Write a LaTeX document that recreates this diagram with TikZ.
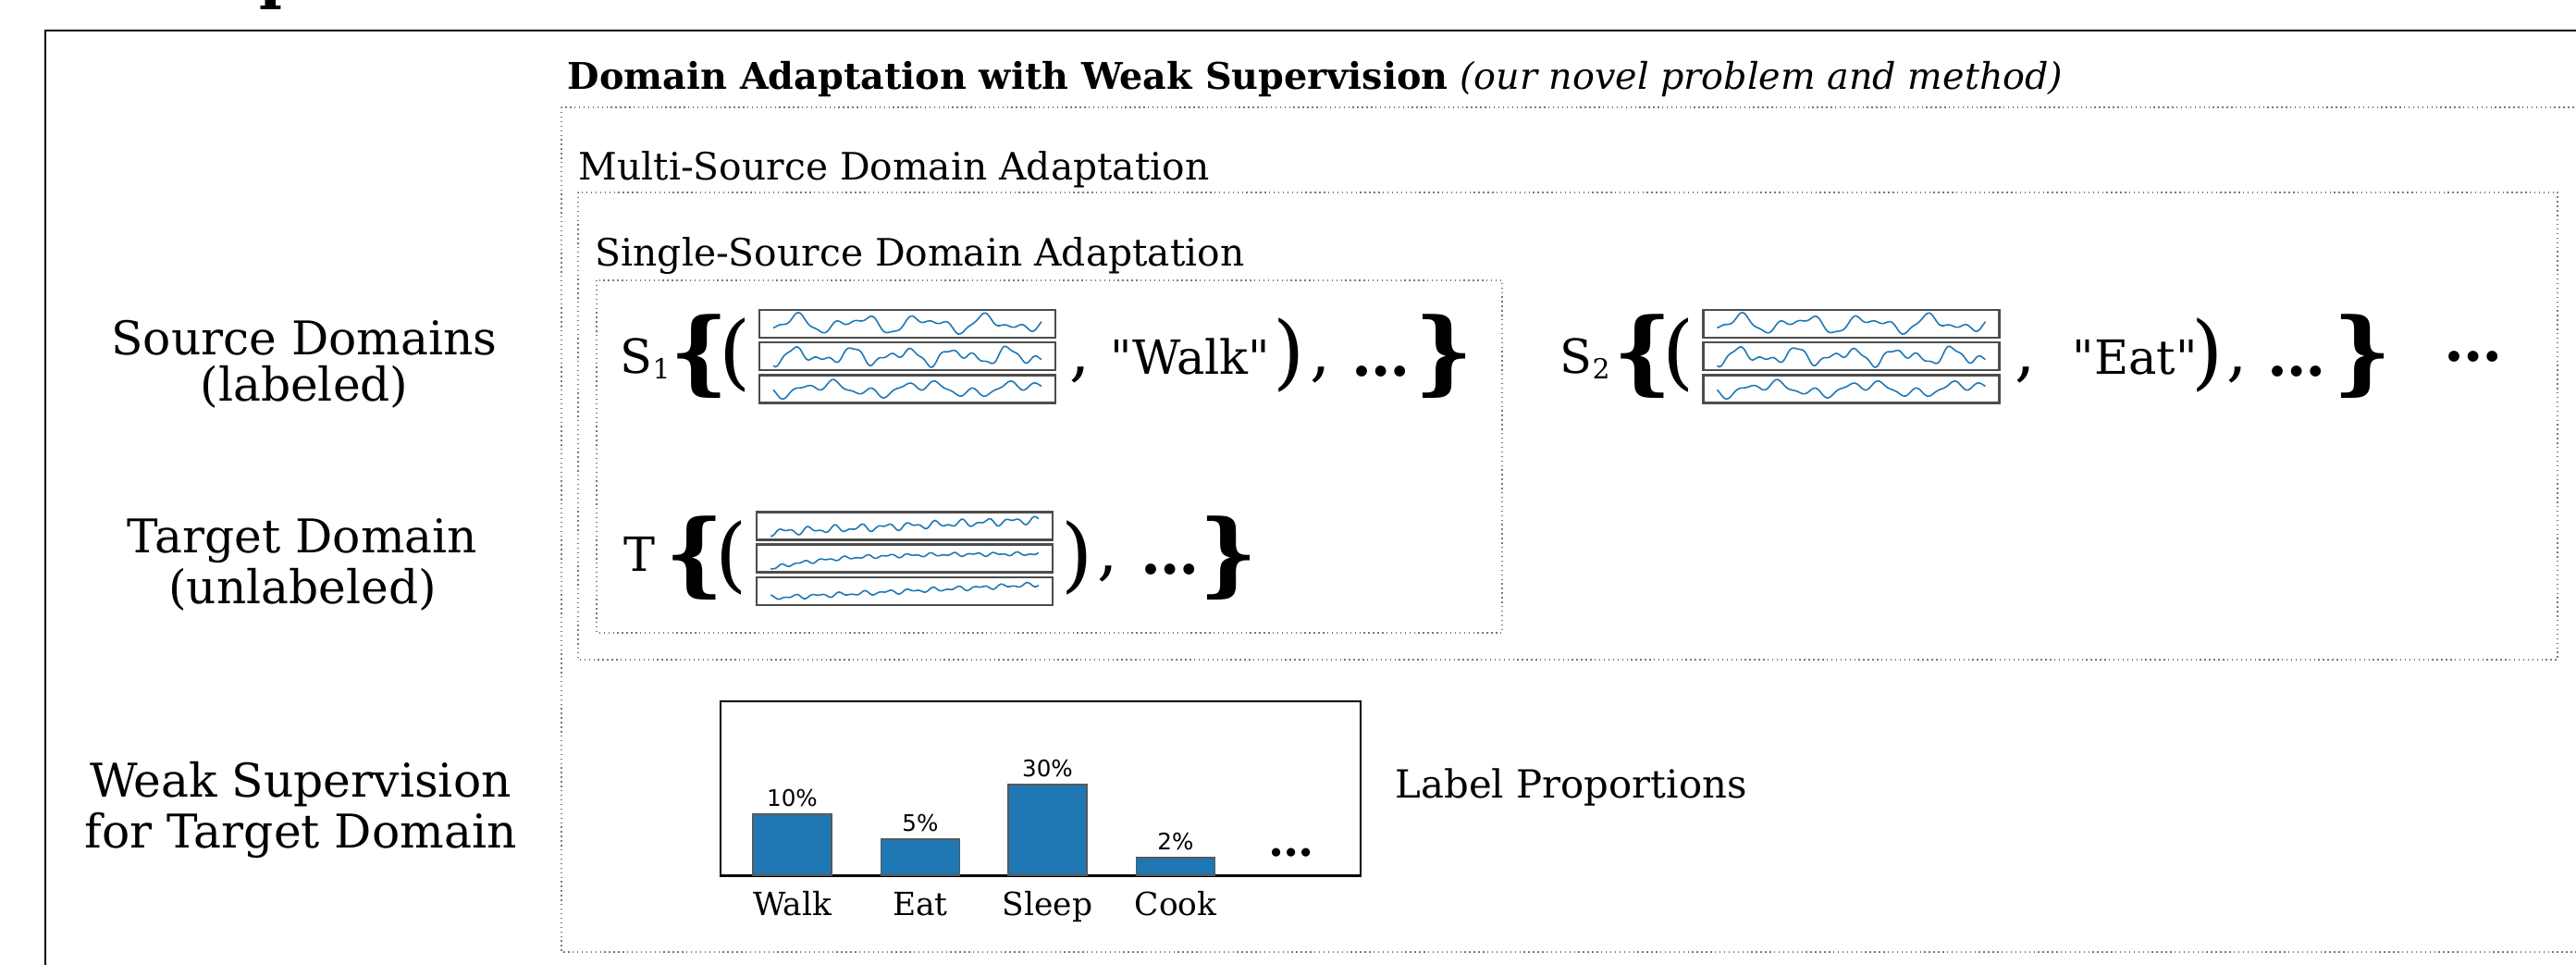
\documentclass[tikz,border=0pt]{standalone}
\usepackage{fontspec}
\setmainfont{DejaVu Serif}
\setsansfont{DejaVu Sans}
\newfontfamily\qfont{DejaVu Serif}
\usetikzlibrary{positioning}
\definecolor{sigBlue}{RGB}{31,119,180}
\definecolor{boxGray}{RGB}{120,120,120}

\tikzset{
  pics/sigstack/.style n args={3}{code={
    \node[sigframe] (-a) at (0,0.35) {};
    \node[sigframe] (-b) at (0,0) {};
    \node[sigframe] (-c) at (0,-0.355) {};
    \draw[sigline] plot[domain=-1.45:1.45, samples=130] (\x, {0.35+#1(\x)});
    \draw[sigline] plot[domain=-1.45:1.45, samples=130] (\x, {#2(\x)});
    \draw[sigline] plot[domain=-1.45:1.45, samples=130] (\x, {-0.355+#3(\x)});
  }}
}

\begin{document}
\begin{tikzpicture}[
    region/.style={draw=boxGray, densely dotted, line width=0.4pt},
    heading/.style={anchor=base west, inner sep=0pt, font=\fontsize{11.6}{14}\selectfont},
    sidelabel/.style={anchor=base, inner sep=0pt, font=\fontsize{14.3}{16}\selectfont},
    sigframe/.style={draw=black!70, line width=0.6pt, minimum width=3.2cm, minimum height=0.3cm, inner sep=0pt},
    sigline/.style={sigBlue, line width=0.45pt},
    eqtext/.style={anchor=base west, inner sep=0pt, font=\qfont\fontsize{14.5}{16}\selectfont},
    eqcomma/.style={anchor=base west, inner sep=0pt, font=\fontsize{20}{20}\selectfont},
    eqdots/.style={anchor=base west, inner sep=0pt, font=\fontsize{18}{20}\selectfont\bfseries},
    bigbrace/.style={inner sep=0pt, font=\fontsize{28}{30}\selectfont\bfseries},
    bigparen/.style={inner sep=0pt, font=\fontsize{25}{26}\selectfont},
    bar/.style={fill=sigBlue, draw=black!65, line width=0.4pt},
    pct/.style={anchor=base, inner sep=0pt, font=\sffamily\fontsize{7}{8}\selectfont},
    catlabel/.style={anchor=base, inner sep=0pt, font=\fontsize{9.8}{11}\selectfont},
    declare function={
      sA(\x)=0.062*sin(deg(9*\x))+0.045*sin(deg(16*\x+1.3))+0.022*sin(deg(31*\x+0.4));
      sB(\x)=0.058*sin(deg(11*\x+2))+0.045*sin(deg(19*\x))+0.022*sin(deg(37*\x+1));
      sC(\x)=0.05*sin(deg(6*\x+0.5))+0.04*sin(deg(17*\x+2.2))+0.022*sin(deg(29*\x));
      tA(\x)=0.045*\x+0.028*sin(deg(23*\x))+0.02*sin(deg(41*\x+1));
      tB(\x)=-0.11+0.16*(1-exp(-1.5*(\x+1.45)))+0.013*sin(deg(27*\x))+0.011*sin(deg(47*\x+1));
      tC(\x)=0.05*\x+0.016*sin(deg(25*\x))+0.013*sin(deg(43*\x+1));
    }
]
\useasboundingbox (0,0) rectangle (27.85,-10.43);
\clip (0,0) rectangle (27.85,-10.43);

% cut-off heading letter and outer frame
\node[anchor=base west, inner sep=0pt, font=\fontsize{19}{20}\selectfont\bfseries] (headp) at (2.80,0.03) {p};
\draw[line width=0.6pt] (0.49,-11) |- (29,-0.33);

% nested problem settings
\node[heading, font=\fontsize{11.3}{14}\selectfont] (daws) at (6.13,-0.97) {\textbf{Domain Adaptation with Weak Supervision} \textit{(our novel problem and method)}};
\draw[region] (6.07,-1.16) rectangle (29,-10.29);
\node[heading] (msda) at (6.25,-1.95) {Multi-Source Domain Adaptation};
\draw[region] (6.25,-2.08) rectangle (27.65,-7.13);
\node[heading] (ssda) at (6.43,-2.88) {Single-Source Domain Adaptation};
\draw[region] (6.45,-3.03) rectangle (16.24,-6.84);

% row labels
\node[sidelabel] (srcA) at (3.29,-3.84) {Source Domains};
\node[sidelabel] (srcB) at (3.29,-4.34) {(labeled)};
\node[sidelabel] (tgtA) at (3.27,-5.98) {Target Domain};
\node[sidelabel] (tgtB) at (3.27,-6.53) {(unlabeled)};
\node[sidelabel] (wsA) at (3.25,-8.62) {Weak Supervision};
\node[sidelabel] (wsB) at (3.25,-9.16) {for Target Domain};

% source domain 1
\node[eqtext] (s1) at (6.70,-4.04) {S\raisebox{-1.7pt}{\fontsize{8.5}{9}\selectfont 1}};
\node[bigbrace] (s1open) at (7.56,-3.855) {\{};
\node[bigparen] (s1par) at (7.95,-3.835) {(};
\pic (s1sig) at (9.81,-3.85) {sigstack={sA}{sB}{sC}};
\node[eqcomma] (s1comma) at (11.56,-4.05) {,};
\node[eqtext] (s1lab) at (12.00,-4.05) {"Walk"};
\node[bigparen] (s1close) at (13.94,-3.835) {)};
\node[eqcomma] (s1comma2) at (14.16,-4.05) {,};
\node[eqdots] (s1dots) at (14.61,-4.07) {…};
\node[bigbrace] (s1end) at (15.61,-3.855) {\}};

% source domain 2
\node[eqtext] (s2) at (16.86,-4.04) {S\raisebox{-1.7pt}{\fontsize{8.5}{9}\selectfont 2}};
\node[bigbrace] (s2open) at (17.76,-3.855) {\{};
\node[bigparen] (s2par) at (18.15,-3.835) {(};
\pic (s2sig) at (20.015,-3.85) {sigstack={sA}{sB}{sC}};
\node[eqcomma] (s2comma) at (21.78,-4.05) {,};
\node[eqtext] (s2lab) at (22.40,-4.05) {"Eat"};
\node[bigparen] (s2close) at (23.87,-3.835) {)};
\node[eqcomma] (s2comma2) at (24.07,-4.05) {,};
\node[eqdots] (s2dots) at (24.51,-4.07) {…};
\node[bigbrace] (s2end) at (25.54,-3.855) {\}};
\node[eqdots, anchor=west] (moredots) at (26.42,-3.86) {…};

% target domain
\node[eqtext] (t) at (6.74,-6.18) {T};
\node[bigbrace] (topen) at (7.51,-6.035) {\{};
\node[bigparen] (tpar) at (7.91,-6.03) {(};
\pic (tsig) at (9.78,-6.035) {sigstack={tA}{tB}{tC}};
\node[bigparen] (tclose) at (11.645,-6.03) {)};
\node[eqcomma] (tcomma) at (11.86,-6.2) {,};
\node[eqdots] (tdots) at (12.33,-6.21) {…};
\node[bigbrace] (tend) at (13.285,-6.035) {\}};

% label proportions
\node[draw=black, line width=0.45pt, minimum width=6.92cm, minimum height=1.88cm, inner sep=0pt] (chart) at (11.25,-8.52) {};
\draw[line width=0.8pt] (chart.south west) -- (chart.south east);
\foreach \lab/\cx/\top/\pc in {Walk/8.565/8.80/10\%, Eat/9.95/9.07/5\%, Sleep/11.325/8.48/30\%, Cook/12.71/9.27/2\%}{
  \draw[bar] (\cx-0.425,-9.46) rectangle (\cx+0.425,-\top);
  \node[pct] (pct-\lab) at (\cx,-\top+0.08) {\pc};
  \node[catlabel] (cat-\lab) at (\cx,-9.89) {\lab};
}
\node[eqdots, anchor=center, font=\fontsize{14}{14}\selectfont\bfseries] (chartdots) at (13.96,-9.22) {…};
\node[anchor=base west, inner sep=0pt, font=\fontsize{11.9}{14}\selectfont] (lp) at (15.08,-8.63) {Label Proportions};
\end{tikzpicture}
\end{document}
